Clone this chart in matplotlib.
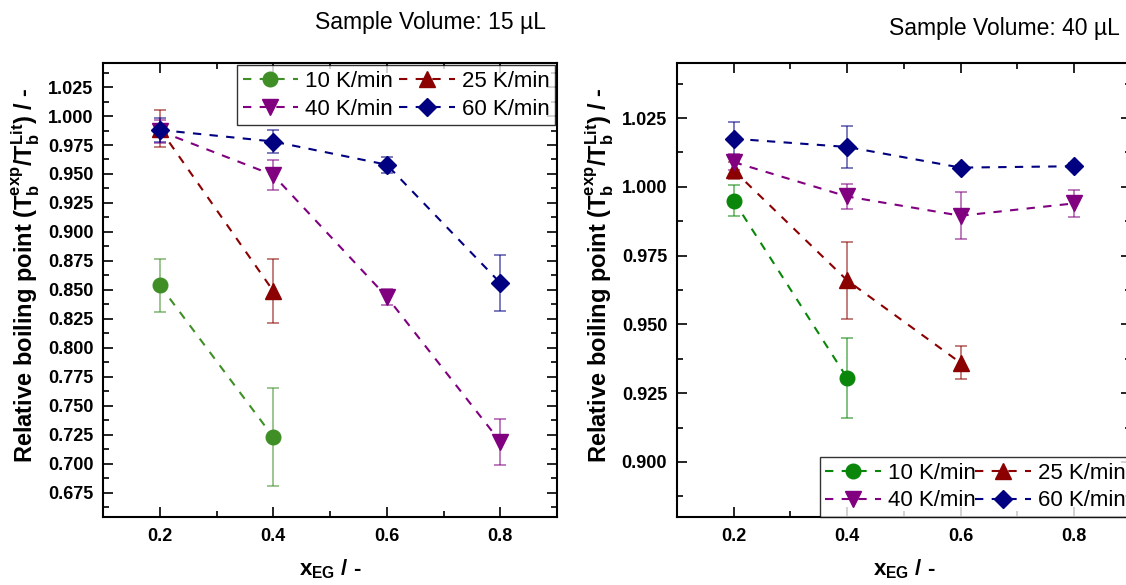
import matplotlib
matplotlib.use("Agg")
from matplotlib import pyplot as plt
from matplotlib.ticker import MultipleLocator

plt.rcParams['font.family'] = ['Liberation Sans', 'DejaVu Sans']
plt.rcParams['mathtext.fontset'] = 'custom'
plt.rcParams['mathtext.rm'] = 'Liberation Sans'
plt.rcParams['mathtext.bf'] = 'Liberation Sans:bold'
plt.rcParams['mathtext.it'] = 'Liberation Sans:italic'

rates = ['10 K/min', '25 K/min', '40 K/min', '60 K/min']
markers = ['o', '^', 'v', 'D']
msizes = [10.5, 11, 11, 9]

# 15 uL sample volume
x15 = [[0.2, 0.4], [0.2, 0.4], [0.2, 0.4, 0.6, 0.8], [0.2, 0.4, 0.6, 0.8]]
y15 = [[0.854, 0.723], [0.989, 0.849], [0.987, 0.949, 0.844, 0.719], [0.988, 0.978, 0.958, 0.856]]
e15 = [[0.023, 0.042], [0.016, 0.028], [0.010, 0.013, 0.007, 0.020], [0.010, 0.010, 0.007, 0.024]]
colors15 = ['#3f8f26', '#8b0000', '#800080', '#000080']

# 40 uL sample volume
x40 = [[0.2, 0.4], [0.2, 0.4, 0.6], [0.2, 0.4, 0.6, 0.8], [0.2, 0.4, 0.6, 0.8]]
y40 = [[0.995, 0.9305], [1.006, 0.966, 0.936], [1.009, 0.9965, 0.9895, 0.994], [1.0175, 1.0145, 1.007, 1.0075]]
e40 = [[0.0055, 0.0145], [0.003, 0.014, 0.006], [0.003, 0.0045, 0.0085, 0.005], [0.006, 0.0075, 0.001, 0.001]]
colors40 = ['#0a870a', '#8b0000', '#800080', '#000080']

fig = plt.figure(figsize=(11.26, 5.85), dpi=100)
ax1 = fig.add_axes([0.0915, 0.1162, 0.4032, 0.776])
ax2 = fig.add_axes([0.6012, 0.1162, 0.4032, 0.776])


def draw(ax, xs, ys, es, colors):
    for i in range(4):
        ax.errorbar(xs[i], ys[i], yerr=es[i], fmt='none', ecolor=colors[i],
                    alpha=0.6, elinewidth=1.2, capsize=4, capthick=1.2, zorder=2)
        ax.plot(xs[i], ys[i], linestyle=(0, (4, 4)), lw=1.5, color=colors[i],
                marker=markers[i], ms=msizes[i], mec=colors[i], mfc=colors[i],
                label=rates[i], zorder=3 + i)
    ax.set_xlim(0.1, 0.9)
    ax.xaxis.set_major_locator(MultipleLocator(0.2))
    ax.xaxis.set_minor_locator(MultipleLocator(0.1))
    ax.yaxis.set_major_locator(MultipleLocator(0.025))
    ax.yaxis.set_minor_locator(MultipleLocator(0.0125))
    ax.yaxis.set_major_formatter(plt.FormatStrFormatter('%.3f'))
    ax.tick_params(which='both', direction='in', top=True, right=True, width=1.2)
    ax.tick_params(which='major', length=7, labelsize=13, pad=7)
    ax.tick_params(which='minor', length=4)
    ax.tick_params(axis='x', pad=8)
    for lab in ax.get_xticklabels() + ax.get_yticklabels():
        lab.set_fontweight('bold')
    for s in ax.spines.values():
        s.set_linewidth(1.5)
    ax.set_xlabel('x$_\\mathbf{EG}$ / -', fontsize=16, fontweight='bold', labelpad=9)
    ax.set_ylabel('Relative boiling point (T$_\\mathbf{b}^\\mathbf{exp}$/T$_\\mathbf{b}^\\mathbf{Lit}$) / -',
                  fontsize=17, fontweight='bold')
    ax.yaxis.set_label_coords(-0.134, 0.532)
    # legend rows: 10, 25 / 40, 60
    h, l = ax.get_legend_handles_labels()
    order = [0, 2, 1, 3]
    return [h[k] for k in order], [l[k] for k in order]


h1, l1 = draw(ax1, x15, y15, e15, colors15)
ax1.set_ylim(0.654, 1.0457)
leg1 = ax1.legend(h1, l1, loc='upper right', ncol=2, fontsize=16, frameon=True, fancybox=False,
                  edgecolor='black', handlelength=2.5, handletextpad=0.3, columnspacing=0.3,
                  borderaxespad=0.1, borderpad=0.25, labelspacing=0.3)
leg1.get_frame().set_linewidth(1.0)

h2, l2 = draw(ax2, x40, y40, e40, colors40)
ax2.set_ylim(0.880, 1.045)
leg2 = ax2.legend(h2, l2, loc='lower right', ncol=2, fontsize=16, frameon=True, fancybox=False,
                  edgecolor='black', handlelength=2.5, handletextpad=0.3, columnspacing=0.0,
                  borderaxespad=0.0, borderpad=0.25, labelspacing=0.3)
leg2.get_frame().set_linewidth(1.0)

fig.text(0.382, 0.962, 'Sample Volume: 15 µL', fontsize=16.5, ha='center', va='center')
fig.text(0.995, 0.952, 'Sample Volume: 40 µL', fontsize=16.5, ha='right', va='center')

fig.savefig('out.png', dpi=100)
